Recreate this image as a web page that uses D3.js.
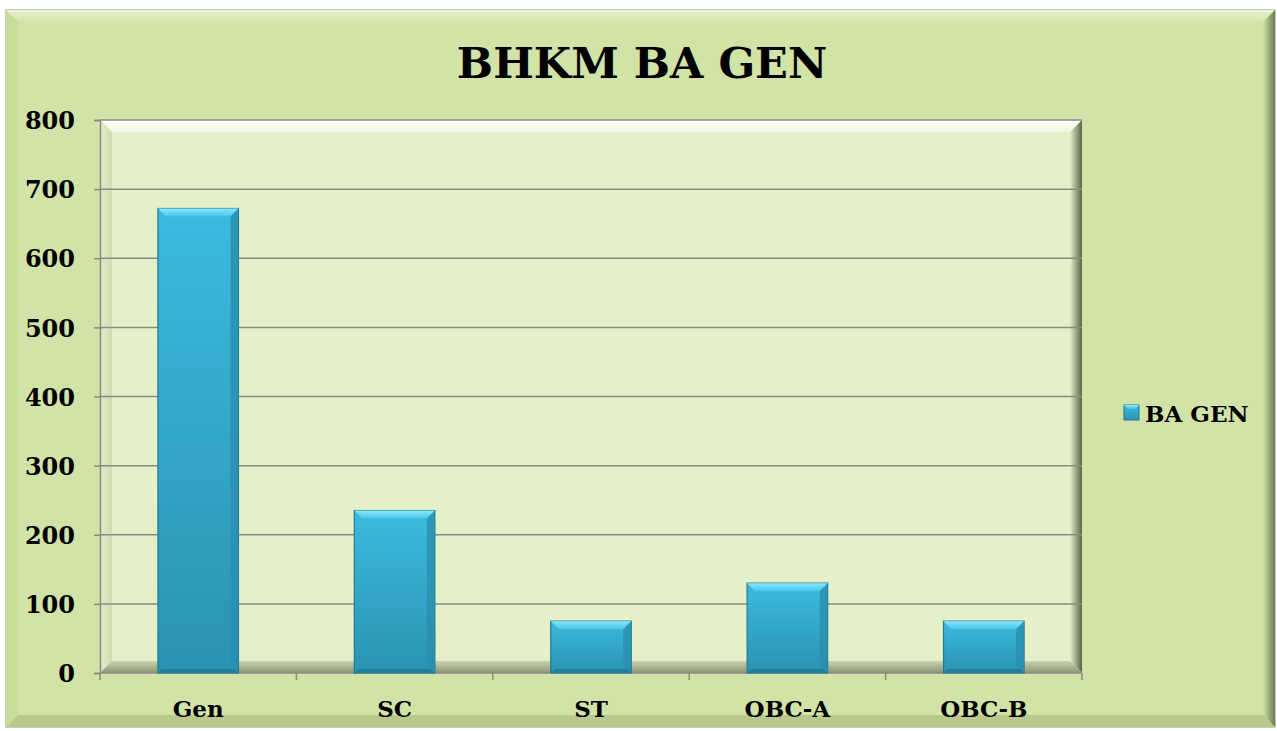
<!DOCTYPE html>
<html>
<head>
<meta charset="utf-8">
<script src="https://cdn.jsdelivr.net/npm/d3@7"></script>
<style>
  body { margin: 0; background: #ffffff; }
  text { font-family: "DejaVu Serif", "Liberation Serif", serif; font-weight: bold; fill: #000; }
</style>
</head>
<body>
<div id="chart"></div>
<script>
// data
const categories = ["Gen", "SC", "ST", "OBC-A", "OBC-B"];
const values = [672, 235, 75, 130, 75];
const yTicks = [0, 100, 200, 300, 400, 500, 600, 700, 800];
const seriesName = "BA GEN";
const chartTitle = "BHKM BA GEN";

const W = 1277, H = 731;
const frame = {x: 6, y: 10, w: 1269, h: 717};
const margin = {top: 120, left: 100, right: 195, bottom: 58};
const plotW = W - margin.left - margin.right;

const svg = d3.select("#chart").append("svg")
    .attr("width", W)
    .attr("height", H);

const defs = svg.append("defs");

function linGrad(id, x2, y2, stops) {
    const g = defs.append("linearGradient").attr("id", id)
        .attr("x1", 0).attr("y1", 0).attr("x2", x2).attr("y2", y2);
    stops.forEach(s => g.append("stop").attr("offset", s[0]).attr("stop-color", s[1]));
}
linGrad("barBody", 0, 1, [[0, "#3cbadf"], [1, "#2a93b2"]]);
linGrad("barTop", 0, 1, [[0, "#8ae8fb"], [1, "#47c6e8"]]);
linGrad("frameRight", 1, 0, [[0, "#d1e2a6"], [1, "#6d7a55"]]);
linGrad("frameTop", 0, 1, [[0, "#eaf3cf"], [1, "#d3e3a8"]]);
linGrad("plotRight", 1, 0, [[0, "#e2efc8"], [1, "#5a6448"]]);
linGrad("plotBottom", 0, 1, [[0, "#c8d4ad"], [1, "#8b9478"]]);
linGrad("plotTop", 0, 1, [[0, "#ffffff"], [1, "#eef6dc"]]);
linGrad("plotLeft", 1, 0, [[0, "#e3f0c8"], [1, "#cfdcb2"]]);

// outer chart area with bevel
svg.append("rect")
    .attr("x", frame.x).attr("y", frame.y)
    .attr("width", frame.w).attr("height", frame.h)
    .attr("fill", "#d2e3a7")
    .attr("stroke", "#8c9a7a").attr("stroke-width", 1);

const bev = 12;
const fx0 = frame.x, fy0 = frame.y, fx1 = frame.x + frame.w, fy1 = frame.y + frame.h;
svg.append("polygon")
    .attr("points", [[fx0, fy0], [fx1, fy0], [fx1 - bev, fy0 + bev], [fx0 + bev, fy0 + bev]].join(" "))
    .attr("fill", "url(#frameTop)");
svg.append("polygon")
    .attr("points", [[fx1 - bev, fy0 + bev], [fx1, fy0], [fx1, fy1], [fx1 - bev, fy1 - bev]].join(" "))
    .attr("fill", "url(#frameRight)");
svg.append("polygon")
    .attr("points", [[fx0, fy0], [fx0 + bev, fy0 + bev], [fx0 + bev, fy1 - bev], [fx0, fy1]].join(" "))
    .attr("fill", "#c9dc98");
svg.append("polygon")
    .attr("points", [[fx0, fy1], [fx0 + bev, fy1 - bev], [fx1 - bev, fy1 - bev], [fx1, fy1]].join(" "))
    .attr("fill", "#b9c98d");

// scales
const x = d3.scaleBand()
    .domain(categories)
    .range([margin.left, margin.left + plotW])
    .paddingInner(0.59)
    .paddingOuter(0.295);

const y = d3.scaleLinear()
    .domain([0, 800])
    .range([673, 120]);

const px0 = margin.left, px1 = margin.left + plotW, py0 = y(800), py1 = y(0);

// plot area with bevel
const g = svg.append("g");
g.append("rect")
    .attr("x", px0).attr("y", py0)
    .attr("width", px1 - px0).attr("height", py1 - py0)
    .attr("fill", "#e3f0c8");
const pb = 12;
g.append("polygon")
    .attr("points", [[px0, py0], [px1, py0], [px1 - pb, py0 + pb], [px0 + pb, py0 + pb]].join(" "))
    .attr("fill", "url(#plotTop)");
g.append("polygon")
    .attr("points", [[px0, py0], [px0 + pb, py0 + pb], [px0 + pb, py1 - pb], [px0, py1]].join(" "))
    .attr("fill", "url(#plotLeft)");
g.append("polygon")
    .attr("points", [[px1 - pb, py0 + pb], [px1, py0], [px1, py1], [px1 - pb, py1 - pb]].join(" "))
    .attr("fill", "url(#plotRight)");
g.append("polygon")
    .attr("points", [[px0, py1], [px0 + pb, py1 - pb], [px1 - pb, py1 - pb], [px1, py1]].join(" "))
    .attr("fill", "url(#plotBottom)");

// gridlines
g.selectAll(".grid")
    .data(yTicks.filter(d => d > 0))
    .enter().append("line")
    .attr("class", "grid")
    .attr("x1", px0).attr("x2", px1)
    .attr("y1", d => y(d)).attr("y2", d => y(d))
    .attr("stroke", "#8a8a85").attr("stroke-width", 1.5);

// axes
const yAxis = svg.append("g")
    .attr("transform", `translate(${px0},0)`)
    .call(d3.axisLeft(y).tickValues(yTicks).tickSize(6).tickPadding(19));
yAxis.select(".domain").attr("stroke", "#8a8a85").attr("stroke-width", 1.5);
yAxis.selectAll(".tick line").attr("stroke", "#8a8a85").attr("stroke-width", 1.5);
yAxis.selectAll(".tick text")
    .attr("font-family", "DejaVu Serif")
    .attr("font-weight", "bold")
    .attr("font-size", 24)
    .attr("fill", "#000")
    .attr("dy", "0.36em");

const xEdges = d3.range(categories.length + 1).map(i => px0 + i * plotW / categories.length);
svg.append("line")
    .attr("x1", px0).attr("x2", px1)
    .attr("y1", py1).attr("y2", py1)
    .attr("stroke", "#8a8a85").attr("stroke-width", 1.5);
svg.selectAll(".xtick")
    .data(xEdges)
    .enter().append("line")
    .attr("class", "xtick")
    .attr("x1", d => d).attr("x2", d => d)
    .attr("y1", py1).attr("y2", py1 + 7)
    .attr("stroke", "#8a8a85").attr("stroke-width", 1.5);
svg.selectAll(".xlabel")
    .data(categories)
    .enter().append("text")
    .attr("class", "xlabel")
    .attr("x", d => x(d) + x.bandwidth() / 2)
    .attr("y", 717)
    .attr("text-anchor", "middle")
    .attr("font-size", 23)
    .text(d => d);

// bars
const bars = svg.append("g").selectAll(".bar")
    .data(categories.map((c, i) => ({cat: c, val: values[i]})))
    .enter().append("g")
    .attr("class", "bar");

bars.append("rect")
    .attr("x", d => x(d.cat))
    .attr("y", d => y(d.val))
    .attr("width", x.bandwidth())
    .attr("height", d => y(0) - y(d.val))
    .attr("fill", "url(#barBody)")
    .attr("stroke", "#1f7a94").attr("stroke-width", 1.2);

const bb = 8;
bars.append("polygon")
    .attr("points", d => {
        const x0 = x(d.cat), x1 = x0 + x.bandwidth(), y0 = y(d.val);
        return [[x0, y0], [x1, y0], [x1 - bb, y0 + bb], [x0 + bb, y0 + bb]].join(" ");
    })
    .attr("fill", "url(#barTop)");
bars.append("polygon")
    .attr("points", d => {
        const x0 = x(d.cat), x1 = x0 + x.bandwidth(), y0 = y(d.val), y1 = y(0);
        return [[x1 - bb, y0 + bb], [x1, y0], [x1, y1], [x1 - bb, y1 - bb]].join(" ");
    })
    .attr("fill", "#2a8fae").attr("opacity", 0.8);
bars.append("polygon")
    .attr("points", d => {
        const x0 = x(d.cat), x1 = x0 + x.bandwidth(), y1 = y(0);
        return [[x0, y1], [x0 + 4, y1 - 4], [x1 - 4, y1 - 4], [x1, y1]].join(" ");
    })
    .attr("fill", "#237e99");

// title
svg.append("text")
    .attr("x", 642)
    .attr("y", 78)
    .attr("text-anchor", "middle")
    .attr("font-size", 43)
    .text(chartTitle);

// legend
const legend = svg.append("g").attr("transform", "translate(1124,405)");
legend.append("rect")
    .attr("width", 15).attr("height", 15)
    .attr("fill", "url(#barBody)")
    .attr("stroke", "#1f7a94");
legend.append("polygon")
    .attr("points", "0,0 15,0 11,4 4,4")
    .attr("fill", "url(#barTop)");
legend.append("text")
    .attr("x", 21)
    .attr("y", 17)
    .attr("font-size", 23)
    .text(seriesName);
</script>
</body>
</html>
